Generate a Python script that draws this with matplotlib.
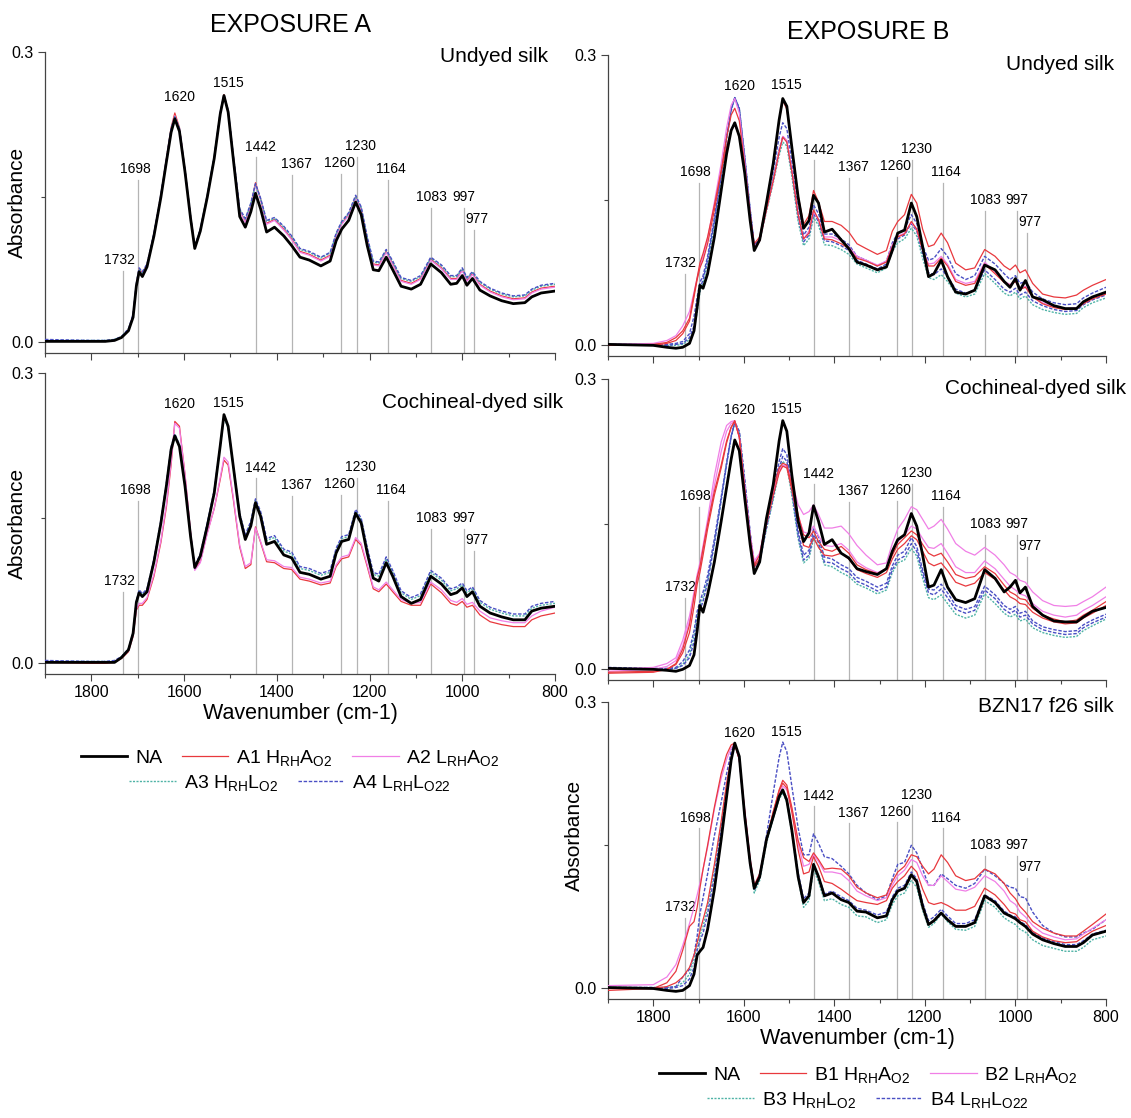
import matplotlib
matplotlib.use('Agg')
import matplotlib.pyplot as plt
from matplotlib.lines import Line2D
from matplotlib.ticker import MultipleLocator

plt.rcParams['font.family'] = ['Liberation Sans', 'DejaVu Sans']
plt.rcParams['mathtext.default'] = 'regular'

wn = [1900, 1800, 1770, 1750, 1735, 1720, 1710, 1703, 1697, 1690,
      1680, 1665, 1650, 1638, 1628, 1620, 1610, 1598, 1586, 1577,
      1565, 1550, 1535, 1522, 1514, 1505, 1494, 1480, 1468, 1456,
      1446, 1435, 1422, 1405, 1385, 1368, 1350, 1330, 1305, 1285,
      1272, 1260, 1245, 1230, 1218, 1205, 1192, 1180, 1164, 1150,
      1132, 1110, 1090, 1068, 1045, 1025, 1012, 1000, 990, 978,
      962, 940, 915, 890, 865, 850, 830, 800]

# ---------------- exposure A, undyed silk
a_und_na = [.001, .001, .001, .002, .005, .012, .026, .058, .073, .068,
            .078, .110, .150, .187, .217, .231, .218, .176, .128, .097,
            .115, .150, .190, .236, .255, .238, .190, .130, .119, .135,
            .154, .138, .114, .119, .110, .100, .088, .085, .079, .084,
            .105, .117, .126, .145, .132, .100, .075, .074, .088, .075,
            .058, .055, .060, .081, .072, .060, .061, .069, .059, .066,
            .054, .048, .043, .040, .041, .047, .051, .053]
a_und_a1 = [.001, .001, .001, .002, .005, .013, .028, .060, .076, .072,
            .080, .112, .152, .190, .222, .237, .222, .178, .130, .098,
            .116, .151, .191, .237, .256, .239, .193, .136, .125, .142,
            .165, .148, .123, .127, .117, .107, .094, .091, .085, .090,
            .111, .123, .132, .150, .138, .106, .081, .080, .094, .081,
            .064, .061, .066, .086, .077, .066, .066, .075, .064, .071,
            .060, .053, .048, .045, .046, .052, .056, .058]
a_und_a2 = [.002, .001, .001, .002, .005, .013, .027, .059, .075, .071,
            .079, .111, .151, .189, .220, .234, .221, .177, .129, .098,
            .116, .150, .190, .236, .255, .238, .192, .135, .124, .141,
            .163, .147, .122, .126, .116, .106, .093, .090, .084, .089,
            .110, .122, .131, .149, .137, .105, .080, .079, .093, .080,
            .063, .060, .065, .085, .076, .065, .065, .074, .063, .070,
            .059, .052, .047, .044, .045, .051, .055, .057]
a_und_a3 = [.002, .002, .002, .003, .006, .014, .028, .060, .076, .072,
            .080, .112, .152, .189, .221, .233, .221, .178, .130, .099,
            .117, .152, .192, .237, .255, .239, .193, .137, .127, .143,
            .163, .148, .125, .128, .119, .109, .096, .093, .087, .092,
            .112, .124, .133, .150, .139, .108, .083, .082, .095, .083,
            .066, .063, .068, .087, .079, .068, .068, .076, .066, .072,
            .062, .055, .050, .047, .048, .054, .058, .060]
a_und_a4 = [.003, .002, .002, .003, .006, .014, .029, .061, .077, .073,
            .081, .113, .153, .190, .221, .233, .221, .178, .130, .099,
            .117, .152, .192, .238, .256, .240, .194, .138, .128, .144,
            .164, .149, .126, .129, .120, .110, .097, .094, .088, .093,
            .113, .125, .134, .152, .140, .109, .084, .083, .096, .084,
            .067, .064, .069, .088, .080, .069, .069, .077, .067, .073,
            .063, .056, .051, .048, .049, .055, .059, .061]

# ---------------- exposure A, cochineal-dyed silk
a_coc_na = [.001, .001, .001, .001, .006, .014, .031, .063, .073, .069,
            .074, .105, .145, .184, .221, .235, .224, .183, .131, .099,
            .111, .142, .176, .225, .257, .245, .204, .152, .128, .142,
            .166, .152, .123, .126, .112, .109, .094, .092, .087, .090,
            .114, .126, .128, .155, .145, .114, .088, .085, .104, .090,
            .069, .062, .066, .090, .082, .071, .073, .078, .069, .074,
            .059, .052, .048, .045, .045, .054, .057, .059]
a_coc_a1 = [.001, .000, .000, .001, .005, .012, .028, .055, .060, .060,
            .066, .090, .125, .162, .205, .250, .245, .195, .135, .098,
            .105, .135, .160, .190, .210, .205, .170, .120, .098, .102,
            .141, .125, .105, .104, .098, .097, .087, .085, .081, .083,
            .100, .108, .110, .128, .122, .100, .077, .074, .082, .074,
            .064, .060, .060, .082, .073, .062, .060, .064, .058, .060,
            .050, .043, .040, .038, .038, .045, .049, .052]
a_coc_a2 = [.002, .001, .001, .002, .006, .013, .029, .056, .062, .062,
            .068, .092, .127, .165, .208, .248, .243, .195, .136, .096,
            .104, .134, .160, .192, .213, .208, .172, .122, .100, .104,
            .140, .126, .107, .106, .100, .099, .089, .087, .083, .085,
            .102, .110, .112, .130, .124, .102, .079, .076, .084, .076,
            .066, .062, .063, .084, .076, .065, .063, .067, .061, .063,
            .054, .047, .044, .042, .042, .049, .054, .058]
a_coc_a3 = [.002, .002, .002, .002, .007, .015, .032, .064, .075, .071,
            .076, .107, .147, .186, .223, .236, .225, .184, .132, .100,
            .112, .144, .178, .224, .254, .243, .203, .153, .131, .145,
            .168, .155, .127, .130, .116, .113, .098, .096, .091, .094,
            .117, .129, .131, .157, .148, .118, .092, .090, .108, .094,
            .073, .066, .070, .094, .086, .075, .077, .081, .073, .077,
            .063, .056, .052, .049, .049, .057, .060, .062]
a_coc_a4 = [.003, .002, .002, .003, .007, .015, .032, .064, .076, .072,
            .077, .108, .148, .187, .224, .237, .226, .185, .133, .101,
            .113, .145, .179, .226, .256, .245, .205, .155, .133, .147,
            .170, .157, .129, .132, .118, .115, .100, .098, .093, .096,
            .119, .131, .133, .159, .150, .120, .094, .092, .110, .096,
            .075, .068, .072, .096, .088, .077, .079, .083, .075, .079,
            .065, .058, .054, .051, .051, .059, .062, .064]

# ---------------- exposure B, undyed silk
b_und_na = [.001, .000, -.002, -.003, -.002, .002, .015, .040, .062, .059,
            .074, .112, .160, .198, .222, .230, .216, .178, .129, .098,
            .109, .147, .188, .233, .255, .247, .205, .153, .121, .129,
            .155, .147, .117, .120, .109, .100, .086, .083, .078, .081,
            .098, .116, .119, .147, .133, .102, .071, .074, .088, .071,
            .055, .053, .057, .083, .078, .066, .060, .069, .057, .067,
            .050, .047, .041, .038, .038, .045, .050, .055]
b_und_b1a = [.000, .001, .003, .008, .015, .028, .053, .070, .085, .095,
             .112, .145, .180, .205, .222, .228, .216, .178, .132, .105,
             .112, .148, .188, .232, .253, .244, .205, .155, .125, .134,
             .160, .148, .128, .128, .124, .117, .105, .100, .094, .098,
             .118, .128, .135, .156, .147, .120, .102, .104, .116, .106,
             .085, .078, .080, .099, .092, .082, .078, .083, .075, .078,
             .064, .053, .050, .049, .052, .057, .062, .068]
b_und_b1b = [.000, .000, .002, .005, .012, .025, .050, .068, .080, .088,
             .105, .140, .180, .215, .238, .245, .232, .186, .135, .100,
             .108, .140, .170, .200, .215, .210, .180, .135, .110, .116,
             .140, .130, .110, .109, .105, .100, .090, .087, .082, .086,
             .102, .112, .115, .128, .120, .098, .082, .082, .090, .082,
             .066, .062, .064, .084, .074, .065, .062, .066, .058, .060,
             .050, .043, .039, .037, .038, .043, .048, .053]
b_und_b2 = [.001, .002, .005, .010, .020, .035, .055, .070, .082, .092,
            .110, .148, .188, .225, .248, .255, .240, .190, .138, .102,
            .108, .140, .170, .200, .216, .212, .182, .136, .110, .118,
            .138, .130, .112, .112, .108, .102, .092, .088, .083, .087,
            .104, .113, .116, .127, .120, .099, .084, .085, .092, .084,
            .068, .064, .066, .086, .076, .066, .063, .067, .059, .061,
            .051, .044, .040, .038, .039, .044, .049, .054]
b_und_b3 = [.001, .000, .000, .000, .001, .006, .015, .035, .055, .065,
            .085, .125, .172, .212, .242, .256, .245, .195, .140, .104,
            .108, .138, .168, .196, .210, .206, .175, .128, .103, .110,
            .132, .124, .104, .103, .099, .094, .084, .080, .075, .080,
            .097, .106, .110, .121, .113, .090, .070, .068, .073, .066,
            .054, .050, .053, .074, .064, .054, .051, .055, .048, .051,
            .042, .037, .034, .032, .033, .039, .044, .049]
b_und_b4a = [.001, .001, .001, .002, .004, .012, .030, .050, .065, .072,
             .092, .132, .178, .216, .244, .256, .244, .194, .140, .103,
             .110, .145, .180, .215, .230, .224, .190, .140, .114, .122,
             .145, .136, .115, .115, .110, .104, .092, .088, .082, .087,
             .106, .116, .120, .135, .126, .103, .088, .090, .100, .092,
             .074, .068, .072, .092, .084, .074, .068, .072, .064, .066,
             .055, .048, .044, .042, .043, .049, .054, .060]
b_und_b4b = [.001, .001, .000, .001, .002, .008, .020, .040, .058, .068,
             .088, .128, .175, .214, .243, .256, .245, .195, .140, .104,
             .109, .141, .172, .202, .216, .211, .180, .132, .107, .114,
             .136, .128, .108, .107, .103, .098, .088, .084, .079, .084,
             .101, .110, .114, .126, .118, .095, .075, .073, .079, .071,
             .058, .054, .057, .078, .068, .058, .055, .059, .052, .055,
             .046, .041, .037, .035, .036, .042, .047, .052]

# ---------------- exposure B, cochineal-dyed silk
b_coc_na = [.001, .000, -.001, -.002, .000, .004, .015, .040, .066, .059,
            .077, .111, .153, .188, .217, .237, .226, .177, .129, .099,
            .111, .156, .191, .236, .257, .246, .201, .153, .132, .141,
            .169, .153, .129, .134, .120, .115, .104, .101, .098, .104,
            .122, .134, .139, .161, .148, .118, .085, .087, .103, .085,
            .072, .069, .073, .103, .094, .080, .085, .092, .079, .085,
            .065, .056, .050, .049, .049, .054, .060, .064]
b_coc_b1a = [-.004, -.003, .000, .006, .021, .046, .075, .095, .106, .125,
             .150, .184, .211, .236, .250, .257, .240, .184, .132, .108,
             .118, .156, .187, .208, .213, .211, .190, .160, .139, .136,
             .143, .132, .124, .122, .127, .120, .108, .103, .099, .104,
             .118, .129, .136, .143, .139, .129, .120, .117, .120, .111,
             .098, .094, .096, .106, .099, .087, .080, .077, .073, .072,
             .063, .056, .052, .049, .051, .056, .061, .070]
b_coc_b1b = [-.003, -.002, .000, .005, .017, .038, .065, .088, .100, .118,
             .145, .180, .208, .234, .250, .256, .240, .186, .134, .106,
             .114, .150, .180, .203, .210, .208, .186, .152, .128, .126,
             .136, .126, .118, .117, .120, .114, .103, .099, .095, .100,
             .114, .124, .130, .138, .134, .122, .110, .107, .110, .102,
             .090, .086, .089, .100, .093, .082, .075, .072, .068, .067,
             .059, .053, .049, .047, .048, .053, .058, .066]
b_coc_b2a = [.000, .002, .006, .012, .030, .055, .080, .098, .110, .128,
             .155, .200, .235, .252, .256, .257, .240, .190, .140, .112,
             .120, .155, .185, .205, .210, .210, .195, .170, .160, .163,
             .170, .160, .146, .146, .148, .140, .128, .118, .108, .110,
             .130, .145, .155, .168, .165, .155, .145, .148, .155, .145,
             .130, .122, .118, .126, .118, .108, .100, .097, .092, .090,
             .080, .071, .066, .065, .066, .070, .075, .085]
b_coc_b2b = [-.002, .000, .003, .009, .024, .050, .075, .092, .105, .122,
             .150, .190, .225, .246, .254, .256, .240, .188, .136, .110,
             .118, .153, .184, .205, .211, .210, .190, .158, .142, .140,
             .148, .138, .128, .127, .130, .123, .111, .105, .100, .104,
             .120, .132, .139, .148, .145, .135, .126, .125, .130, .120,
             .106, .100, .100, .112, .104, .093, .086, .082, .078, .076,
             .068, .060, .056, .054, .056, .061, .066, .075]
b_coc_b3 = [.001, .000, .000, .001, .005, .015, .035, .055, .065, .075,
            .092, .130, .175, .212, .240, .254, .245, .195, .140, .108,
            .112, .145, .175, .205, .215, .210, .180, .135, .110, .115,
            .135, .128, .108, .106, .100, .096, .088, .084, .078, .082,
            .100, .110, .113, .125, .117, .094, .074, .072, .077, .068,
            .057, .053, .056, .078, .068, .058, .054, .057, .050, .052,
            .043, .038, .035, .033, .034, .040, .045, .052]
b_coc_b4a = [.001, .001, .001, .002, .008, .020, .040, .060, .070, .080,
             .097, .135, .178, .214, .241, .255, .245, .195, .140, .107,
             .113, .150, .185, .215, .228, .222, .190, .143, .118, .123,
             .145, .137, .116, .114, .108, .104, .095, .091, .085, .089,
             .107, .118, .122, .136, .127, .103, .083, .082, .088, .079,
             .066, .062, .065, .086, .077, .066, .062, .065, .058, .060,
             .050, .044, .041, .039, .040, .046, .051, .057]
b_coc_b4b = [.002, .001, .000, .001, .004, .012, .028, .048, .062, .070,
             .090, .130, .175, .212, .240, .256, .246, .196, .141, .106,
             .111, .146, .178, .208, .220, .215, .184, .138, .113, .118,
             .139, .131, .111, .110, .104, .100, .091, .087, .081, .085,
             .103, .113, .117, .130, .122, .099, .079, .077, .083, .074,
             .062, .058, .061, .082, .073, .062, .058, .061, .054, .056,
             .047, .041, .038, .036, .037, .043, .048, .054]

# ---------------- exposure B, BZN17 f26 silk
b_bzn_na = [.001, .000, -.002, -.003, -.002, .003, .015, .035, .039, .043,
            .062, .104, .156, .201, .239, .257, .243, .180, .131, .105,
            .117, .156, .180, .201, .208, .197, .166, .117, .090, .097,
            .130, .117, .097, .100, .093, .090, .081, .080, .074, .076,
            .093, .102, .105, .119, .112, .086, .067, .071, .079, .072,
            .065, .065, .069, .097, .090, .079, .076, .073, .069, .065,
            .057, .051, .047, .044, .044, .048, .056, .060]
b_bzn_b1a = [-.002, .000, .006, .018, .040, .065, .070, .085, .105, .125,
             .150, .190, .225, .245, .255, .257, .240, .185, .135, .108,
             .120, .155, .185, .208, .218, .213, .190, .155, .137, .133,
             .142, .135, .125, .126, .125, .118, .106, .100, .095, .098,
             .112, .122, .128, .140, .138, .128, .120, .125, .140, .132,
             .118, .113, .115, .125, .120, .110, .100, .094, .086, .080,
             .070, .063, .058, .055, .055, .060, .067, .078]
b_bzn_b1b = [.000, .000, .002, .006, .012, .022, .035, .048, .060, .072,
             .090, .130, .175, .215, .242, .255, .240, .185, .133, .105,
             .118, .155, .185, .207, .215, .210, .185, .145, .120, .122,
             .138, .128, .112, .110, .104, .098, .092, .090, .088, .092,
             .105, .112, .118, .128, .122, .104, .090, .088, .090, .087,
             .082, .082, .086, .105, .098, .088, .080, .078, .072, .070,
             .060, .054, .050, .048, .049, .054, .060, .066]
b_bzn_b2 = [.003, .004, .012, .025, .045, .068, .085, .098, .110, .125,
            .148, .188, .220, .240, .252, .256, .240, .188, .136, .108,
            .120, .155, .183, .203, .212, .208, .188, .152, .128, .130,
            .140, .133, .122, .122, .120, .113, .102, .097, .092, .095,
            .108, .118, .124, .135, .132, .118, .108, .108, .118, .112,
            .104, .102, .106, .118, .112, .102, .092, .088, .080, .075,
            .066, .058, .054, .051, .052, .057, .063, .072]
b_bzn_b3 = [.001, .001, .001, .002, .006, .015, .030, .045, .055, .065,
            .085, .125, .172, .212, .242, .255, .242, .180, .128, .100,
            .113, .152, .178, .198, .205, .195, .163, .115, .085, .092,
            .125, .112, .092, .094, .088, .085, .076, .075, .069, .072,
            .088, .097, .100, .113, .106, .082, .064, .068, .078, .070,
            .062, .061, .065, .092, .085, .074, .070, .067, .062, .059,
            .051, .045, .042, .039, .039, .043, .051, .055]
b_bzn_b4a = [.001, .001, .001, .002, .012, .020, .035, .055, .078, .095,
             .120, .160, .195, .225, .248, .257, .240, .180, .132, .105,
             .118, .160, .205, .242, .258, .248, .212, .168, .140, .140,
             .162, .152, .138, .136, .128, .120, .108, .100, .093, .097,
             .115, .130, .132, .150, .142, .125, .108, .108, .120, .115,
             .108, .105, .110, .125, .118, .110, .106, .105, .096, .095,
             .080, .066, .058, .054, .054, .058, .062, .072]
b_bzn_b4b = [.001, .001, .000, .001, .003, .010, .022, .040, .050, .058,
             .078, .118, .166, .208, .240, .256, .242, .181, .130, .103,
             .116, .155, .180, .201, .208, .199, .168, .121, .094, .100,
             .130, .118, .099, .102, .096, .092, .084, .082, .077, .080,
             .096, .105, .108, .122, .115, .090, .071, .075, .083, .076,
             .068, .068, .072, .098, .092, .081, .077, .075, .070, .067,
             .059, .053, .049, .046, .046, .050, .057, .061]

# marked bands: where the guide line sits, its label, label position
band_pos = [1731, 1699, 1445, 1368, 1261, 1228, 1161, 1067, 997, 974]
band_txt = ['1732', '1698', '1620', '1515', '1442', '1367', '1260', '1230',
            '1164', '1083', '997', '977']
band_x = [1740, 1706, 1610, 1505, 1435, 1358, 1265, 1219, 1153, 1067, 997, 968]
band_y = [.085, .179, .268, .269, .202, .184, .185, .203, .179, .150, .150, .127]
band_y_topleft = [.085, .179, .253, .268, .202, .184, .185, .203, .179, .150, .150, .127]

W, H = 1131, 1118
fig = plt.figure(figsize=(W / 100, H / 100), dpi=100)

sty = {
    'NA': dict(color='black', lw=2.0, ls='-', zorder=4),
    '1': dict(color='#e8383d', lw=0.9, ls='-', zorder=3),
    '2': dict(color='#f07fe6', lw=0.9, ls='-', zorder=3),
    '3': dict(color='#4fb3a6', lw=1.0, ls=(0, (1.5, 1.0)), zorder=3),
    '4': dict(color='#4a4fc4', lw=1.0, ls=(0, (2.5, 1.2)), zorder=3),
}


def box(x0, y0, x1, y1):
    return [x0 / W, 1 - y1 / H, (x1 - x0) / W, (y1 - y0) / H]


def setup(ax, xlab=False, ylab=None):
    ax.set_xlim(1900, 800)
    ax.set_ylim(-0.011, 0.3)
    for s in ['top', 'right']:
        ax.spines[s].set_visible(False)
    for s in ['left', 'bottom']:
        ax.spines[s].set_color('#444444')
        ax.spines[s].set_linewidth(0.9)
    ax.set_xticks([1800, 1600, 1400, 1200, 1000, 800])
    ax.xaxis.set_minor_locator(MultipleLocator(100))
    ax.set_yticks([0.0, 0.3])
    ax.set_yticklabels(['0.0', '0.3'])
    ax.set_yticks([0.15], minor=True)
    ax.tick_params(which='major', direction='out', length=5, width=0.8,
                   color='#444444', labelsize=11.5, pad=3)
    ax.tick_params(which='minor', direction='out', length=3, width=0.8,
                   color='#444444')
    ax.tick_params(axis='x', labelbottom=xlab)
    if xlab:
        ax.set_xlabel('Wavenumber (cm-1)', fontsize=15.5, labelpad=2)
    if ylab is not None:
        ax.set_ylabel('Absorbance', fontsize=15)
        ax.yaxis.set_label_coords(*ylab)


def bands(ax, ys):
    y0 = ax.get_ylim()[0]
    k = 0
    for i, t in enumerate(band_txt):
        if t not in ('1620', '1515'):
            ax.plot([band_pos[k], band_pos[k]], [y0, ys[i] - 0.011],
                    color='#b4b4b4', lw=0.9, zorder=1)
            k += 1
        ax.text(band_x[i], ys[i], t, ha='center', va='center', fontsize=10)


panels = [
    (box(45, 52, 555, 353), False, (-0.035, 0.5), band_y_topleft,
     [(a_und_a1, '1'), (a_und_a2, '2'), (a_und_a3, '3'), (a_und_a4, '4'), (a_und_na, 'NA')]),
    (box(45, 373, 555, 674), True, (-0.035, 0.5), band_y,
     [(a_coc_a1, '1'), (a_coc_a2, '2'), (a_coc_a3, '3'), (a_coc_a4, '4'), (a_coc_na, 'NA')]),
    (box(608, 55, 1106, 356), False, None, band_y,
     [(b_und_b3, '3'), (b_und_b4a, '4'), (b_und_b4b, '4'), (b_und_b2, '2'),
      (b_und_b1b, '1'), (b_und_b1a, '1'), (b_und_na, 'NA')]),
    (box(608, 379, 1106, 680), False, None, band_y,
     [(b_coc_b3, '3'), (b_coc_b4a, '4'), (b_coc_b4b, '4'), (b_coc_b2a, '2'),
      (b_coc_b2b, '2'), (b_coc_b1a, '1'), (b_coc_b1b, '1'), (b_coc_na, 'NA')]),
    (box(608, 702, 1106, 999), True, (-0.048, 0.55), band_y,
     [(b_bzn_b3, '3'), (b_bzn_b4b, '4'), (b_bzn_b4a, '4'), (b_bzn_b2, '2'),
      (b_bzn_b1b, '1'), (b_bzn_b1a, '1'), (b_bzn_na, 'NA')]),
]

for rect, xlab, ylab, ys, series in panels:
    ax = fig.add_axes(rect)
    setup(ax, xlab, ylab)
    bands(ax, ys)
    for vals, key in series:
        ax.plot(wn, vals, solid_joinstyle='round', **sty[key])


def ft(x, y, s, **kw):
    fig.text(x / W, 1 - y / H, s, va='center', **kw)


ft(290, 25, 'EXPOSURE A', ha='center', fontsize=18)
ft(868, 32, 'EXPOSURE B', ha='center', fontsize=18)
ft(548, 56, 'Undyed silk', ha='right', fontsize=15)
ft(563, 403, 'Cochineal-dyed silk', ha='right', fontsize=15)
ft(1114, 64, 'Undyed silk', ha='right', fontsize=15)
ft(1126, 389, 'Cochineal-dyed silk', ha='right', fontsize=15)
ft(1114, 707, 'BZN17 f26 silk', ha='right', fontsize=15)

labs_a = ['NA', 'A1 H$_{RH}$A$_{O2}$', 'A2 L$_{RH}$A$_{O2}$',
          'A3 H$_{RH}$L$_{O2}$', 'A4 L$_{RH}$L$_{O22}$']
labs_b = ['NA', 'B1 H$_{RH}$A$_{O2}$', 'B2 L$_{RH}$A$_{O2}$',
          'B3 H$_{RH}$L$_{O2}$', 'B4 L$_{RH}$L$_{O22}$']
keys = ['NA', '1', '2', '3', '4']
hnd = []
for k in keys:
    st = dict(sty[k])
    st.pop('zorder')
    hnd.append(Line2D([], [], **st))

leg_kw = dict(loc='center', frameon=False, fontsize=14, handlelength=2.4,
              handletextpad=0.4, columnspacing=1.0, borderpad=0)
for labs, cx, y1, y2 in [(labs_a, 290, 758, 783), (labs_b, 868, 1075, 1100)]:
    fig.legend(hnd[:3], labs[:3], ncol=3,
               bbox_to_anchor=(cx / W, 1 - y1 / H), **leg_kw)
    fig.legend(hnd[3:], labs[3:], ncol=2,
               bbox_to_anchor=(cx / W, 1 - y2 / H), **leg_kw)

fig.savefig('out.png', dpi=100, facecolor='white')
